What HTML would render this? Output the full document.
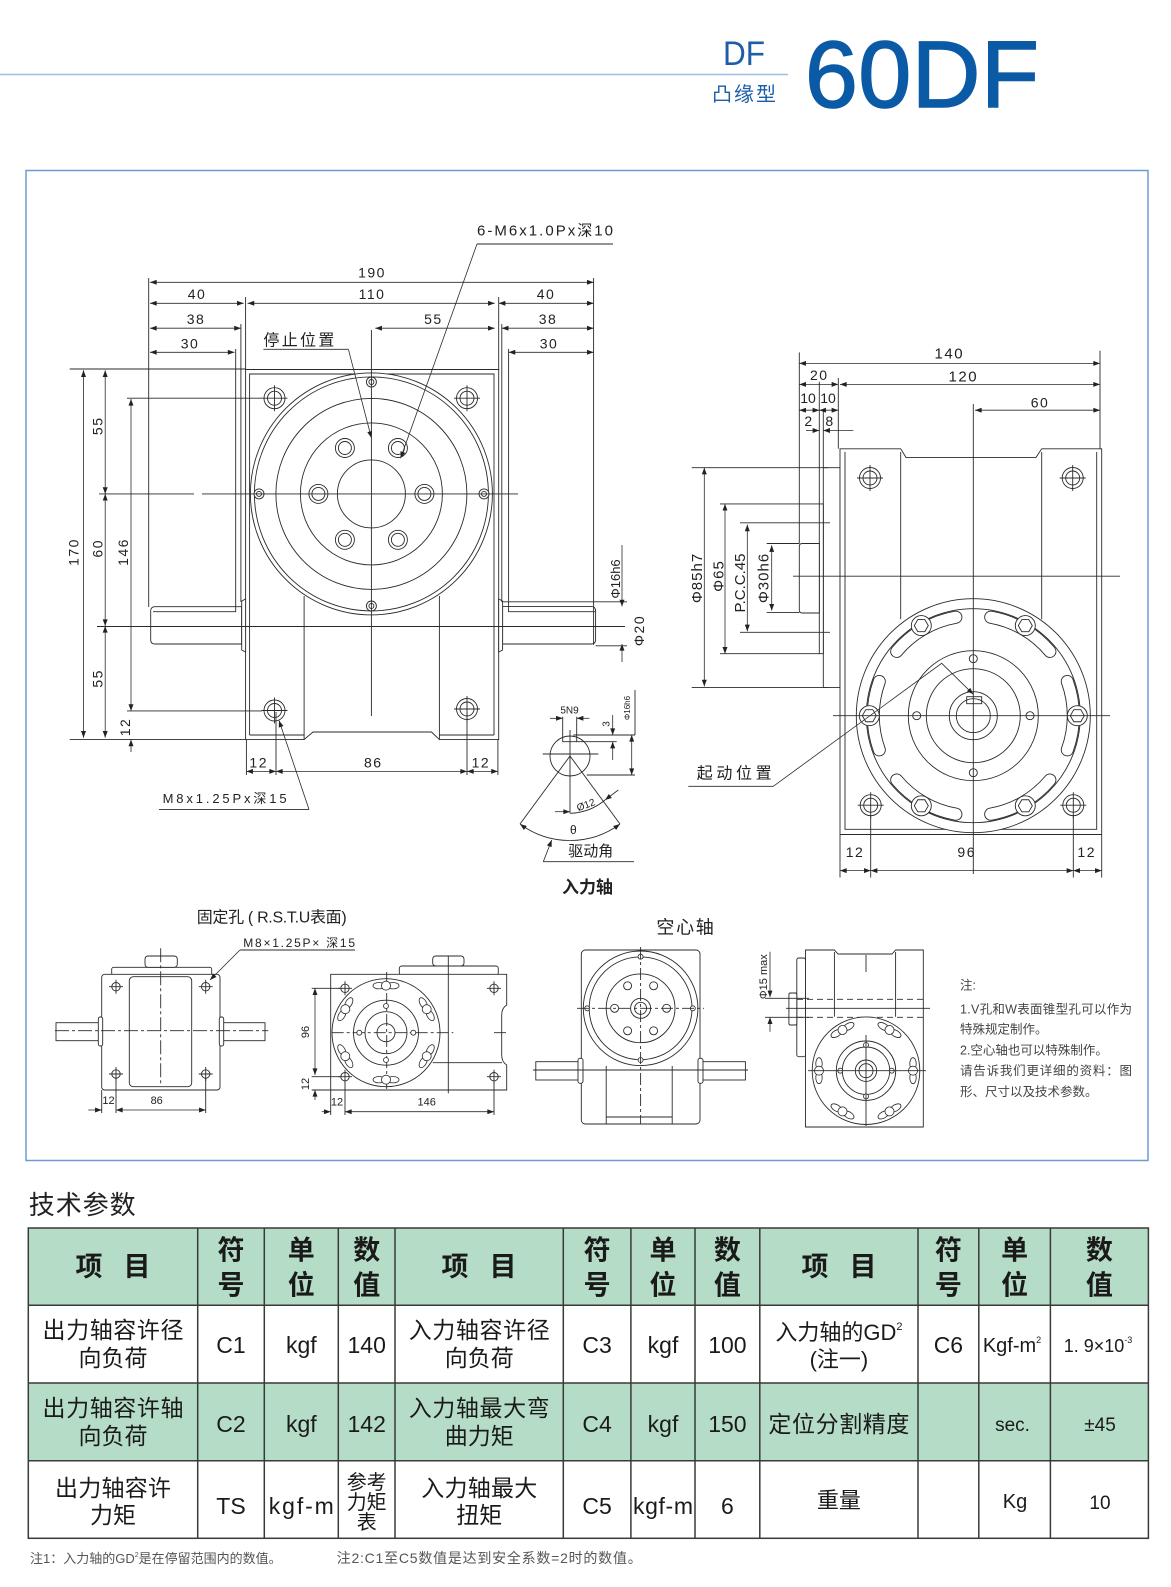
<!DOCTYPE html>
<html><head><meta charset="utf-8">
<style>
html,body{margin:0;padding:0;background:#fff;}
svg{display:block;}
</style></head><body>
<svg width="1171" height="1587" viewBox="0 0 1171 1587" xmlns="http://www.w3.org/2000/svg" font-family="'Liberation Sans','Noto Sans CJK SC',sans-serif">
<defs>
<marker id="a" viewBox="0 0 8 6" refX="8" refY="3" markerWidth="7" markerHeight="5" markerUnits="userSpaceOnUse" orient="auto-start-reverse"><path d="M0,0L8,3L0,6z" fill="#222"/></marker>
<g id="bh" stroke="#2a2a2a" stroke-width="0.9" fill="none"><circle r="9.5" fill="#fff"/><circle r="6.5"/></g>
<g id="ch" stroke="#2a2a2a" stroke-width="0.9" fill="none"><circle r="10.5" fill="#fff"/><circle r="7"/><path d="M-13,0H13M0,-13V13"/></g>
<g id="sh" stroke="#2a2a2a" stroke-width="0.9" fill="none"><circle r="5" fill="#fff"/><circle r="2.5"/></g>
<g id="xh" stroke="#2a2a2a" stroke-width="0.9" fill="none"><circle r="4.2" fill="#fff"/><path d="M-7,0H7M0,-7V7"/></g>
<g id="hb" stroke="#2a2a2a" stroke-width="0.9" fill="none"><circle r="10" fill="#fff"/><polygon points="7,0 3.5,6.06 -3.5,6.06 -7,0 -3.5,-6.06 3.5,-6.06"/></g>
<g id="pt" stroke="#2a2a2a" stroke-width="0.8" fill="#fff"><ellipse cx="-7" rx="6" ry="3.2"/><ellipse cx="7" rx="6" ry="3.2"/><circle r="4.5"/></g>
<g id="sm" stroke="#2a2a2a" stroke-width="0.8" fill="#fff"><circle r="2.5"/></g>
</defs>
<rect width="1171" height="1587" fill="#fff"/>

<!-- HEADER -->
<line x1="0" y1="74.5" x2="788" y2="74.5" stroke="#9dc0e2" stroke-width="1.5"/>
<text x="723" y="65" font-size="34" fill="#1d5ea6" font-family="'Liberation Sans',sans-serif" textLength="42" lengthAdjust="spacingAndGlyphs">DF</text>
<text x="712" y="101" font-size="20" fill="#1d5ea6" font-family="'Noto Sans CJK SC',sans-serif" textLength="64">凸缘型</text>
<text x="805" y="107" font-size="95" fill="#0b5aa6" stroke="#0b5aa6" stroke-width="1.6" font-family="'Liberation Sans',sans-serif" textLength="234">60DF</text>

<!-- FRAME -->
<rect x="26" y="170.5" width="1122" height="990" fill="none" stroke="#6b9bd2" stroke-width="1.5"/>

<!-- ============ GEOMETRY ============ -->
<g stroke="#2a2a2a" stroke-width="0.9" fill="none">
<!-- front view body -->
<path fill="#fff" d="M245.6,369.5H498.7V739.6H439.4L431.5,732H313L304.1,739.6H245.6Z"/>
<path d="M249.6,735V374H494V735 M249.6,735H304 M439.4,735H494 M304.1,596V739.6 M439.4,596V739.6"/>
<!-- shafts -->
<path fill="#fff" d="M241.7,606.7H155Q150.7,606.7 150.7,611V640Q150.7,644 155,644H241.7Z"/>
<path fill="#fff" d="M241.7,601L245.6,599V652L241.7,650Z"/>
<path fill="#fff" d="M502.6,606.4H591Q595.6,606.4 595.6,611V640Q595.6,644 591,644H502.6Z"/>
<path fill="#fff" d="M502.6,601L498.7,599V652L502.6,650Z"/>
<!-- ext lines -->
<path d="M148.7,278V607 M245.6,297V370 M240.9,324V602 M235.7,349V611.7H153 M498.7,297V370 M501.8,324V602 M508.6,349V611.7H595 M593.6,278V645"/>
<!-- disk -->
<circle cx="371.4" cy="493.9" r="121" fill="#fff"/>
<circle cx="371.4" cy="493.9" r="117"/>
<circle cx="371.4" cy="493.9" r="95.5"/>
<circle cx="371.4" cy="493.9" r="71"/>
<circle cx="371.4" cy="493.9" r="34"/>
<use href="#bh" x="424.4" y="493.9"/><use href="#bh" x="318.4" y="493.9"/>
<use href="#bh" x="397.9" y="448"/><use href="#bh" x="344.9" y="448"/>
<use href="#bh" x="344.9" y="539.8"/><use href="#bh" x="397.9" y="539.8"/>
<use href="#sh" x="371.4" y="382"/><use href="#sh" x="371.4" y="606"/>
<use href="#sh" x="259" y="493.9"/><use href="#sh" x="484" y="493.9"/>
<use href="#ch" x="274.5" y="398.2"/><use href="#ch" x="467" y="398.2"/>
<use href="#ch" x="274.5" y="710.5"/><use href="#ch" x="467" y="709"/>
<!-- centerlines -->
<path d="M99,493.9H194 M202,493.9H518 M371.4,330V716 M97,626.5H625"/>
<!-- left ext lines -->
<path d="M69.7,369H245.6 M69.7,739.6H245.6 M127,398.2H262 M127,710.9H262"/>
<!-- bottom ext -->
<path d="M246.4,740V775 M276,712V775 M467,712V775 M497.9,740V775"/>
<!-- right ext -->
<path d="M502.6,601.8H627 M595.6,645.8H627"/>
<!-- leader underlines -->
<path d="M477,244H613 M263.4,349.3H348.4 M159,809.4H309"/>

<!-- input shaft detail -->
<circle cx="570" cy="756" r="20"/>
<path d="M542.7,754H598.3 M570,730V813.3"/>
<path d="M562.7,716.7V741.7H576.7V716.7"/>
<path d="M573.3,735H635 M576.7,741.7H616.7 M586.7,775H635 M635,690V735"/>
<path d="M570,756L520,824 M570,756L620,824"/>
<path d="M570,813.3A57,57 0 0 0 605,800"/>
<path d="M543.3,861.7H634"/>

<!-- side view -->
<path d="M799.3,352.4V543.5 M838.3,378V448.8 M1100,350.7V448.8"/>
<path fill="#fff" d="M823.3,467.7H840V687.4H823.3Z"/>
<path fill="#fff" d="M819.3,503.9H823.3V653.7H819.3Z"/>
<path d="M819.3,381.7V503.9 M823.3,409V467.7"/>
<path fill="#fff" d="M819.3,543.5H802.3Q799.3,543.5 799.3,546.5V610Q799.3,613 802.3,613H819.3Z"/>
<path fill="#fff" d="M840,448.8H900.7L906,457.4H1036L1041.7,448.8H1101.7V834.5H840Z"/>
<path d="M845,452V829.3H1096.7V452 M900.7,452V619.3 M1041.7,452V619.3"/>
<path d="M691.7,467.7H828.3 M691.7,687.4H828.3 M720,503.9H819.3 M720,653.7H819.3 M740,522.8H830 M740,632.3H830 M766.7,543.5H799.3 M766.7,612.4H799.3"/>
<use href="#ch" x="870" y="478"/><use href="#ch" x="1072.7" y="478"/>
<use href="#ch" x="870.7" y="805.2"/><use href="#ch" x="1073.3" y="805.2"/>
<circle cx="973.3" cy="715.7" r="117" fill="#fff"/>
<circle cx="973.3" cy="715.7" r="107"/>
<g stroke="#2a2a2a" stroke-width="13" stroke-linecap="round">
<path d="M1067.3,749.9A100,100 0 0 0 1067.3,681.5 M1049.9,651.4A100,100 0 0 0 990.7,617.2 M955.9,617.2A100,100 0 0 0 896.7,651.4 M879.3,681.5A100,100 0 0 0 879.3,749.9 M896.7,780A100,100 0 0 0 955.9,814.2 M990.7,814.2A100,100 0 0 0 1049.9,780"/>
</g>
<g stroke="#fff" stroke-width="11.2" stroke-linecap="round">
<path d="M1067.3,749.9A100,100 0 0 0 1067.3,681.5 M1049.9,651.4A100,100 0 0 0 990.7,617.2 M955.9,617.2A100,100 0 0 0 896.7,651.4 M879.3,681.5A100,100 0 0 0 879.3,749.9 M896.7,780A100,100 0 0 0 955.9,814.2 M990.7,814.2A100,100 0 0 0 1049.9,780"/>
</g>
<use href="#hb" x="1077.3" y="715.7"/><use href="#hb" x="1025.3" y="625.6"/><use href="#hb" x="921.3" y="625.6"/>
<use href="#hb" x="869.3" y="715.7"/><use href="#hb" x="921.3" y="805.8"/><use href="#hb" x="1025.3" y="805.8"/>
<circle cx="973.3" cy="715.7" r="65"/>
<circle cx="973.3" cy="715.7" r="47"/>
<circle cx="973.3" cy="715.7" r="24"/>
<circle cx="973.3" cy="715.7" r="17"/>
<rect x="966.7" y="696.7" width="15" height="7"/>
<circle cx="973.3" cy="658.7" r="4"/><circle cx="973.3" cy="772.7" r="4"/>
<circle cx="916.7" cy="715.7" r="4"/><circle cx="1030" cy="715.7" r="4"/>
<path d="M833,715.7H1110 M973.3,404V874 M793,576.2H1120"/>
<path d="M840,835V877.5 M1101.7,835V877.5 M870.7,815V877.5 M1073.3,815V877.5"/>
<path d="M688.3,786.3H773.3"/>

<!-- small view A -->
<rect x="111.7" y="967.3" width="100" height="8" rx="2" fill="#fff"/>
<rect x="145" y="956" width="32.3" height="11.3" rx="3" fill="#fff"/>
<rect x="101.7" y="974.3" width="118.3" height="115.7" rx="3" fill="#fff"/>
<rect x="129.3" y="976.7" width="62.4" height="110" rx="4"/>
<rect x="56" y="1022.7" width="43.3" height="18" fill="#fff"/>
<rect x="98.3" y="1017" width="4.4" height="29" rx="2" fill="#fff"/>
<rect x="221.7" y="1022.7" width="43.3" height="18" fill="#fff"/>
<rect x="219.3" y="1017" width="4.4" height="29" rx="2" fill="#fff"/>
<path d="M160.7,948.3V1083.3 M55,1030.7H268.3" stroke-dasharray="14 3 3 3"/>
<use href="#xh" x="116" y="986.7"/><use href="#xh" x="205.7" y="986.7"/>
<use href="#xh" x="116" y="1074"/><use href="#xh" x="205.7" y="1074"/>
<path d="M101.7,1090V1113 M116,1078V1113 M205.7,1078V1113 M240,950H355"/>

<!-- small view B -->
<rect x="399.3" y="966" width="99" height="9" rx="2.5" fill="#fff"/>
<rect x="432.7" y="956" width="31.3" height="10" rx="3" fill="#fff"/>
<path fill="#fff" d="M330.7,974.3H506.7V1005Q501.7,1008 501.7,1015V1055Q501.7,1062 506.7,1065V1090H330.7Z"/>
<path d="M448.3,956V1093.3 M432.7,1062.7H502"/>
<circle cx="386" cy="1032.7" r="54" fill="#fff"/>
<circle cx="386" cy="1032.7" r="32.5"/>
<circle cx="386" cy="1032.7" r="21"/>
<circle cx="386" cy="1032.7" r="9"/>
<path d="M331.7,1032.7H453.3 M494,1032.7H508 M386.7,972V1090" stroke-dasharray="12 3 3 3"/>
<use href="#sm" x="359.3" y="1032.7"/><use href="#sm" x="413.3" y="1032.7"/>
<use href="#sm" x="386" y="1006"/><use href="#sm" x="386" y="1060"/>
<use href="#pt" transform="translate(386,985.7)"/>
<use href="#pt" transform="translate(426.7,1009.2) rotate(60)"/>
<use href="#pt" transform="translate(345.3,1009.2) rotate(-60)"/>
<use href="#pt" transform="translate(345.3,1056.2) rotate(60)"/>
<use href="#pt" transform="translate(386,1079.7)"/>
<use href="#pt" transform="translate(426.7,1056.2) rotate(-60)"/>
<use href="#xh" x="345" y="988.3"/><use href="#xh" x="494" y="988.3"/>
<use href="#xh" x="345" y="1076.7"/><use href="#xh" x="494" y="1076.7"/>
<path d="M311.7,988.3H340 M311.7,1076.7H340 M311.7,1090H330.7 M330.7,1090V1115 M345,1081V1115 M494,1081V1115"/>

<!-- view C (hollow shaft front) -->
<rect x="581.3" y="950" width="118.7" height="174" rx="4" fill="#fff"/>
<rect x="535.8" y="1061.7" width="45.5" height="18.3" fill="#fff"/>
<rect x="578" y="1058.3" width="5" height="25" rx="2" fill="#fff"/>
<rect x="700" y="1061.7" width="45.4" height="18.3" fill="#fff"/>
<rect x="698" y="1058.3" width="5" height="25" rx="2" fill="#fff"/>
<path d="M606.2,1066V1124 M672.2,1066V1124 M606.2,1117H672.2 M533,1070H748"/>
<circle cx="640.6" cy="1008.3" r="57.3" fill="#fff"/>
<circle cx="640.6" cy="1008.3" r="51.4"/>
<circle cx="640.6" cy="1008.3" r="34.4"/>
<circle cx="640.6" cy="1008.3" r="10"/>
<circle cx="640.6" cy="1008.3" r="6"/>
<use href="#sm" x="640.6" y="956.7"/><use href="#sm" x="640.6" y="1060"/>
<use href="#sm" x="587.2" y="1008.3"/><use href="#sm" x="692.8" y="1008.3"/>
<circle cx="666.6" cy="1008.3" r="4"/><circle cx="614.6" cy="1008.3" r="4"/>
<circle cx="653.6" cy="985.8" r="4"/><circle cx="627.6" cy="985.8" r="4"/>
<circle cx="653.6" cy="1030.8" r="4"/><circle cx="627.6" cy="1030.8" r="4"/>
<path d="M640.6,947V1124 M577,1008.3H704" stroke-dasharray="12 3 3 3"/>

<!-- view D (hollow shaft side) -->
<path fill="#fff" d="M805.5,950H834.4L838,954H892L895.6,950H923.3V1127H805.5Z"/>
<path d="M834.4,952V1016.7 M895.6,952V1016.7"/>
<rect x="796.8" y="958" width="8.7" height="98.7" rx="2" fill="#fff"/>
<rect x="788.9" y="993" width="7.9" height="32" rx="1.5" fill="#fff"/>
<path d="M797,999.3H923 M797,1017.3H923" stroke-dasharray="6 4"/>
<path d="M786,1008.3H930 M765,998.3H809 M765,1017.3H809"/>
<circle cx="866" cy="1070.7" r="53.8" fill="#fff"/>
<circle cx="866" cy="1070.7" r="29.7"/>
<circle cx="866" cy="1070.7" r="23.7"/>
<circle cx="866" cy="1070.7" r="10.7"/>
<circle cx="866" cy="1070.7" r="7"/>
<use href="#sm" x="840.3" y="1070.7"/><use href="#sm" x="891.7" y="1070.7"/>
<use href="#sm" x="866" y="1045"/><use href="#sm" x="866" y="1096.4"/>
<use href="#pt" transform="translate(913,1070.7) rotate(90)"/>
<use href="#pt" transform="translate(889.5,1030) rotate(30)"/>
<use href="#pt" transform="translate(842.5,1030) rotate(-30)"/>
<use href="#pt" transform="translate(819,1070.7) rotate(90)"/>
<use href="#pt" transform="translate(842.5,1111.4) rotate(30)"/>
<use href="#pt" transform="translate(889.5,1111.4) rotate(-30)"/>
<path d="M808,1070.7H926 M866,955V972 M866,1035V1126"/>
</g>

<!-- double-arrow dimension lines -->
<g stroke="#2a2a2a" stroke-width="0.8" fill="none" marker-start="url(#a)" marker-end="url(#a)">
<line x1="150" y1="282.3" x2="593.6" y2="282.3"/>
<line x1="150" y1="303.3" x2="243.6" y2="303.3"/>
<line x1="247.6" y1="303.3" x2="494.7" y2="303.3"/>
<line x1="498.7" y1="303.3" x2="593.6" y2="303.3"/>
<line x1="150" y1="328.2" x2="240.9" y2="328.2"/>
<line x1="375.3" y1="328.2" x2="494.7" y2="328.2"/>
<line x1="501.8" y1="328.2" x2="593.6" y2="328.2"/>
<line x1="150" y1="352.3" x2="234.5" y2="352.3"/>
<line x1="508.6" y1="352.3" x2="593.6" y2="352.3"/>
<line x1="83.5" y1="370.3" x2="83.5" y2="737.7"/>
<line x1="105.2" y1="370.3" x2="105.2" y2="493.9"/>
<line x1="105.2" y1="493.9" x2="105.2" y2="626"/>
<line x1="105.2" y1="626" x2="105.2" y2="737.7"/>
<line x1="131" y1="399" x2="131" y2="710.9"/>
<line x1="246.4" y1="771.4" x2="276" y2="771.4"/>
<line x1="276" y1="771.4" x2="467" y2="771.4"/>
<line x1="467" y1="771.4" x2="497.9" y2="771.4"/>
<line x1="799.3" y1="363.4" x2="1100" y2="363.4"/>
<line x1="799.3" y1="384.4" x2="838.3" y2="384.4"/>
<line x1="840" y1="384.4" x2="1100" y2="384.4"/>
<line x1="799.3" y1="410.2" x2="819.3" y2="410.2"/>
<line x1="819.3" y1="410.2" x2="838.3" y2="410.2"/>
<line x1="975" y1="410.2" x2="1100" y2="410.2"/>
<line x1="704.3" y1="467.7" x2="704.3" y2="686.4"/>
<line x1="725" y1="503.9" x2="725" y2="653.7"/>
<line x1="747.3" y1="524.6" x2="747.3" y2="631.3"/>
<line x1="771.7" y1="545.2" x2="771.7" y2="610.6"/>
<line x1="840" y1="870.6" x2="870.7" y2="870.6"/>
<line x1="870.7" y1="870.6" x2="1073.3" y2="870.6"/>
<line x1="1073.3" y1="870.6" x2="1101.7" y2="870.6"/>
<line x1="631.7" y1="735" x2="631.7" y2="775"/>
<path d="M520,824A84,84 0 0 0 620,824"/>
<line x1="116" y1="1110" x2="205.7" y2="1110"/>
<line x1="345" y1="1111.7" x2="494" y2="1111.7"/>
<line x1="315" y1="988.3" x2="315" y2="1075"/>
</g>

<!-- single-arrow lines / leaders -->
<g stroke="#2a2a2a" stroke-width="0.8" fill="none" marker-end="url(#a)">
<line x1="131" y1="752" x2="131" y2="739.6"/>
<line x1="477" y1="244" x2="400.6" y2="458.3"/>
<line x1="348.4" y1="349.3" x2="371.4" y2="438"/>
<line x1="309" y1="809.4" x2="279" y2="720.5"/>
<line x1="622" y1="545" x2="622" y2="606.4"/>
<line x1="622" y1="662" x2="622" y2="644"/>
<line x1="806" y1="430.5" x2="819.3" y2="430.5"/>
<line x1="853.3" y1="430.5" x2="823.3" y2="430.5"/>
<path d="M773.3,786.3L941.7,663.3L973.3,694.3"/>
<line x1="550" y1="718.3" x2="562.7" y2="718.3"/>
<line x1="589.3" y1="718.3" x2="576.7" y2="718.3"/>
<line x1="612.7" y1="715" x2="612.7" y2="735"/>
<line x1="612.7" y1="760" x2="612.7" y2="741.7"/>
<line x1="555" y1="811.7" x2="570" y2="811.7"/>
<line x1="618.3" y1="790" x2="605" y2="800"/>
<line x1="543.3" y1="861.7" x2="551.7" y2="840"/>
<line x1="88.3" y1="1110" x2="101.7" y2="1110"/>
<line x1="315" y1="1100" x2="315" y2="1090"/>
<line x1="321.7" y1="1111.7" x2="330.7" y2="1111.7"/>
<line x1="240" y1="950" x2="210" y2="980"/>
<line x1="770" y1="951.7" x2="770" y2="997.3"/>
<line x1="770" y1="1031.7" x2="770" y2="1017.3"/>
</g>

<!-- ============ DRAWING TEXT ============ -->
<g fill="#222" font-size="14" text-anchor="middle" letter-spacing="1.5">
<text x="372" y="277.5">190</text>
<text x="197" y="299">40</text>
<text x="372" y="299">110</text>
<text x="546" y="299">40</text>
<text x="196" y="324">38</text>
<text x="433.4" y="324">55</text>
<text x="548" y="324">38</text>
<text x="190" y="348.5">30</text>
<text x="549" y="348.5">30</text>
<text transform="translate(78.6,552) rotate(-90)">170</text>
<text transform="translate(102.3,425.8) rotate(-90)">55</text>
<text transform="translate(102.3,548.3) rotate(-90)">60</text>
<text transform="translate(102.3,678.4) rotate(-90)">55</text>
<text transform="translate(128,552) rotate(-90)">146</text>
<text transform="translate(130,727) rotate(-90)">12</text>
<text x="258.7" y="767.5">12</text>
<text x="373.3" y="767.5">86</text>
<text x="480.9" y="767.5">12</text>
<text transform="translate(620,579) rotate(-90)" font-size="13" letter-spacing="0">Φ16h6</text>
<text transform="translate(644,630.5) rotate(-90)">Φ20</text>
<text x="949.3" y="358.6" font-size="15">140</text>
<text x="819.3" y="380">20</text>
<text x="963.3" y="381.7" font-size="15">120</text>
<text x="808" y="403" letter-spacing="0">10</text>
<text x="828" y="403" letter-spacing="0">10</text>
<text x="1040" y="407.5">60</text>
<text x="809" y="426">2</text>
<text x="830" y="426">8</text>
<text transform="translate(702,578) rotate(-90)" font-size="15" letter-spacing="1">Φ85h7</text>
<text transform="translate(723.5,576) rotate(-90)" font-size="15" letter-spacing="1">Φ65</text>
<text transform="translate(745,583) rotate(-90)" font-size="15" letter-spacing="0">P.C.C.45</text>
<text transform="translate(768.5,578) rotate(-90)" font-size="15" letter-spacing="1">Φ30h6</text>
<text x="855" y="857">12</text>
<text x="966.7" y="857">96</text>
<text x="1086.7" y="857">12</text>
</g>
<g fill="#222">
<text x="477" y="235.5" font-size="15" textLength="136">6-M6x1.0Px深10</text>
<text x="263.4" y="345.5" font-size="16" textLength="71">停止位置</text>
<text x="162.6" y="803" font-size="13" textLength="124">M8x1.25Px深15</text>
<text x="696.7" y="778.5" font-size="16" textLength="75">起动位置</text>
<text x="569.5" y="713.5" font-size="10" text-anchor="middle">5N9</text>
<text transform="translate(609.5,724) rotate(-90)" font-size="10" text-anchor="middle">3</text>
<text transform="translate(630,708) rotate(-90)" font-size="8" text-anchor="middle">Φ16h6</text>
<text transform="translate(587,808) rotate(-20)" font-size="10" text-anchor="middle">Ø12</text>
<text x="573.3" y="834" font-size="12" text-anchor="middle">θ</text>
<text x="568.3" y="856" font-size="15" textLength="45">驱动角</text>
<text x="587.5" y="893" font-size="17" font-weight="bold" text-anchor="middle">入力轴</text>
<text x="196.7" y="922.5" font-size="16" textLength="150">固定孔 ( R.S.T.U表面)</text>
<text x="243.3" y="947" font-size="12" textLength="111.7">M8×1.25P× 深15</text>
<text x="656.4" y="933.5" font-size="18" textLength="57.4">空心轴</text>
<g font-size="11" text-anchor="middle">
<text x="108.5" y="1104">12</text>
<text x="156.7" y="1104">86</text>
<text x="337" y="1105.7">12</text>
<text x="426.7" y="1105.7">146</text>
<text transform="translate(309,1032) rotate(-90)">96</text>
<text transform="translate(309,1084) rotate(-90)">12</text>
<text transform="translate(767,976.7) rotate(-90)">Φ15 max</text>
</g>
<g font-size="12.5" fill="#444">
<text x="960" y="989.5">注:</text>
<text x="960" y="1013.5" textLength="172">1.V孔和W表面锥型孔可以作为</text>
<text x="960" y="1033.5">特殊规定制作。</text>
<text x="960" y="1054.5">2.空心轴也可以特殊制作。</text>
<text x="960" y="1075" textLength="172">请告诉我们更详细的资料：图</text>
<text x="960" y="1096">形、尺寸以及技术参数。</text>
</g>
</g>

<!-- ============ TABLE ============ -->
<text x="28.7" y="1214" font-size="26" fill="#222" textLength="107">技术参数</text>
<rect x="28.3" y="1228" width="1120.1" height="77.3" fill="#b5dcc6"/>
<rect x="28.3" y="1383" width="1120.1" height="77.7" fill="#b5dcc6"/>
<g stroke="#3a3a3a" stroke-width="1.5" fill="none">
<rect x="28.3" y="1228" width="1120.1" height="310.3"/>
<path d="M28.3,1305.3H1148.4 M28.3,1383H1148.4 M28.3,1460.7H1148.4"/>
<path d="M197.7,1228V1538.3 M264.3,1228V1538.3 M338.3,1228V1538.3 M395,1228V1538.3 M563.3,1228V1538.3 M630.9,1228V1538.3 M695,1228V1538.3 M759.8,1228V1538.3 M918,1228V1538.3 M978.8,1228V1538.3 M1050.4,1228V1538.3"/>
</g>
<g fill="#1a1a1a" font-size="27" font-weight="bold" text-anchor="middle">
<text x="89" y="1276">项</text><text x="137" y="1276">目</text>
<text x="455" y="1276">项</text><text x="503" y="1276">目</text>
<text x="815" y="1276">项</text><text x="863" y="1276">目</text>
<text x="231" y="1259.5">符</text><text x="231" y="1294.5">号</text>
<text x="301.3" y="1259.5">单</text><text x="301.3" y="1294.5">位</text>
<text x="366.7" y="1259.5">数</text><text x="366.7" y="1294.5">值</text>
<text x="597.1" y="1259.5">符</text><text x="597.1" y="1294.5">号</text>
<text x="663" y="1259.5">单</text><text x="663" y="1294.5">位</text>
<text x="727.4" y="1259.5">数</text><text x="727.4" y="1294.5">值</text>
<text x="948.4" y="1259.5">符</text><text x="948.4" y="1294.5">号</text>
<text x="1014.6" y="1259.5">单</text><text x="1014.6" y="1294.5">位</text>
<text x="1099.4" y="1259.5">数</text><text x="1099.4" y="1294.5">值</text>
</g>
<g fill="#1a1a1a" font-size="23" text-anchor="middle">
<!-- row 1 -->
<text x="113" y="1338" textLength="141">出力轴容许径</text>
<text x="113" y="1366">向负荷</text>
<text x="231" y="1353">C1</text>
<text x="301.3" y="1353">kgf</text>
<text x="366.7" y="1353">140</text>
<text x="479.2" y="1338" textLength="141">入力轴容许径</text>
<text x="479.2" y="1366">向负荷</text>
<text x="597.1" y="1353">C3</text>
<text x="663" y="1353">kgf</text>
<text x="727.4" y="1353">100</text>
<text x="838.9" y="1340" font-size="22">入力轴的GD<tspan font-size="11" dy="-10">2</tspan></text>
<text x="838.9" y="1367" font-size="22">(注一)</text>
<text x="948.4" y="1353">C6</text>
<text x="1012" y="1352" font-size="20">Kgf-m<tspan font-size="9" dy="-9">2</tspan></text>
<text x="1098" y="1352" font-size="18">1. 9×10<tspan font-size="9" dy="-9">-3</tspan></text>
<!-- row 2 -->
<text x="113" y="1416" textLength="141">出力轴容许轴</text>
<text x="113" y="1444">向负荷</text>
<text x="231" y="1432">C2</text>
<text x="301.3" y="1432">kgf</text>
<text x="366.7" y="1432">142</text>
<text x="479.2" y="1416" textLength="141">入力轴最大弯</text>
<text x="479.2" y="1444">曲力矩</text>
<text x="597.1" y="1432">C4</text>
<text x="663" y="1432">kgf</text>
<text x="727.4" y="1432">150</text>
<text x="838.9" y="1432" textLength="141">定位分割精度</text>
<text x="1012.5" y="1431" font-size="19">sec.</text>
<text x="1100" y="1431" font-size="19">±45</text>
<!-- row 3 -->
<text x="113" y="1496" textLength="116">出力轴容许</text>
<text x="113" y="1523">力矩</text>
<text x="231" y="1514">TS</text>
<text x="301.3" y="1514" textLength="65">kgf-m</text>
<text x="366.7" y="1489" font-size="20">参考</text>
<text x="366.7" y="1509" font-size="20">力矩</text>
<text x="366.7" y="1529" font-size="20">表</text>
<text x="479.2" y="1496" textLength="116">入力轴最大</text>
<text x="479.2" y="1523">扭矩</text>
<text x="597.1" y="1514">C5</text>
<text x="663" y="1514" textLength="60">kgf-m</text>
<text x="727.4" y="1514">6</text>
<text x="838.9" y="1508" font-size="22">重量</text>
<text x="1015" y="1508" font-size="20">Kg</text>
<text x="1100" y="1509" font-size="19">10</text>
</g>
<g fill="#555">
<text x="30" y="1563" font-size="13">注1：入力轴的GD<tspan font-size="7" dy="-6">2</tspan><tspan dy="6">是在停留范围内的数值。</tspan></text>
<text x="336.7" y="1563" font-size="14" textLength="305">注2:C1至C5数值是达到安全系数=2时的数值。</text>
</g>
</svg>
</body></html>
